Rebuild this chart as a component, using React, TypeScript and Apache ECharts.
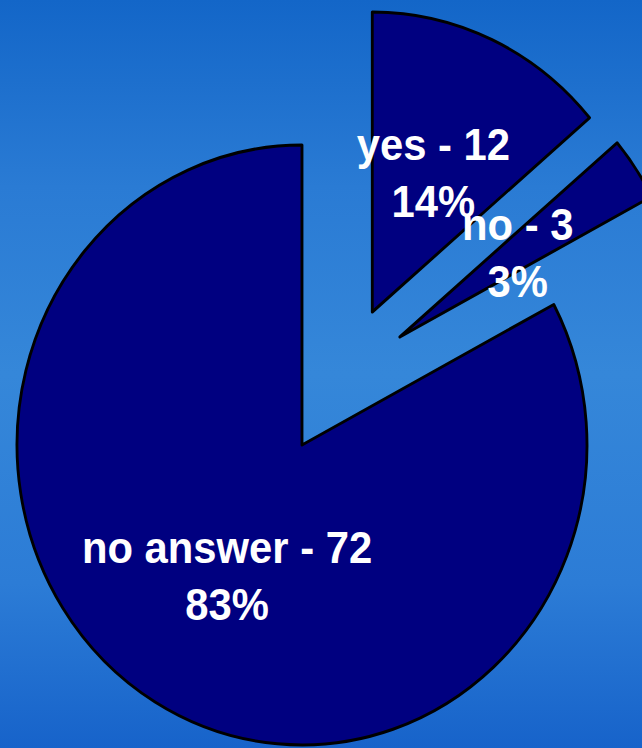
import React, { useEffect, useRef } from "react";
import * as echarts from "echarts";

const categories = ["yes", "no", "no answer"];
const counts = [12, 3, 72];

// pixel centres of each (exploded) slice, before the horizontal squeeze
const sliceCenters: [number, number][] = [
  [376, 312],
  [405, 337],
  [302, 445],
];

const RADIUS = 300;
const SQUEEZE_X = 0.95;

const labelFont = {
  fontSize: 44,
  lineHeight: 57,
  fontWeight: "bold",
  fontFamily: "Liberation Sans, Arial, sans-serif",
};

export default function App() {
  const ref = useRef<HTMLDivElement>(null);

  useEffect(() => {
    if (!ref.current) return;
    const chart = echarts.init(ref.current, undefined, { renderer: "svg" });

    const total = counts.reduce((a, b) => a + b, 0);

    const series = categories.map((_, idx) => ({
      type: "pie",
      silent: true,
      startAngle: 90,
      clockwise: true,
      radius: RADIUS,
      center: sliceCenters[idx],
      percentPrecision: 0,
      avoidLabelOverlap: false,
      labelLine: { show: false },
      emphasis: { disabled: true },
      data: categories.map((name, j) => ({
        name,
        value: counts[j],
        itemStyle:
          j === idx
            ? { color: "#000080", borderColor: "#000000", borderWidth: 3 }
            : { color: "rgba(0,0,0,0)", borderWidth: 0 },
        label:
          j === idx && idx !== 1
            ? {
                show: true,
                position: "inside",
                formatter: (p: any) => `${p.name} - ${p.value}\n${p.percent}%`,
                color: "#ffffff",
                align: "center",
                verticalAlign: "middle",
                ...labelFont,
              }
            : { show: false },
      })),
    }));

    // label of the thin "no" slice (ECharts hides inside labels that overflow
    // a narrow sector), placed at the same mid-radius point ECharts would use
    const before = counts.slice(0, 1).reduce((a, b) => a + b, 0);
    const midDeg = ((before + counts[1] / 2) / total) * 360;
    const midRad = (midDeg * Math.PI) / 180;
    const [cx, cy] = sliceCenters[1];
    const lx = cx + (RADIUS / 2) * Math.sin(midRad);
    const ly = cy - (RADIUS / 2) * Math.cos(midRad);
    const pct = Math.round((counts[1] / total) * 100);

    chart.setOption({
      animation: false,
      backgroundColor: "transparent",
      series,
      graphic: [
        {
          type: "text",
          x: lx,
          y: ly,
          silent: true,
          z: 100,
          style: {
            text: `${categories[1]} - ${counts[1]}\n${pct}%`,
            fill: "#ffffff",
            align: "center",
            verticalAlign: "middle",
            ...labelFont,
          },
        },
      ],
    } as any);

    return () => chart.dispose();
  }, []);

  return (
    <div
      style={{
        position: "fixed",
        left: 0,
        top: 0,
        width: 642,
        height: 748,
        overflow: "hidden",
        background:
          "linear-gradient(to bottom, #1366c8 0%, #2a7bd4 25%, #3587d9 50%, #2c7cd6 78%, #1763ca 100%)",
      }}
    >
      <div
        ref={ref}
        style={{
          position: "absolute",
          left: 0,
          top: 0,
          width: 700,
          height: 748,
          transform: `scaleX(${SQUEEZE_X})`,
          transformOrigin: "302px 50%",
        }}
      />
    </div>
  );
}
